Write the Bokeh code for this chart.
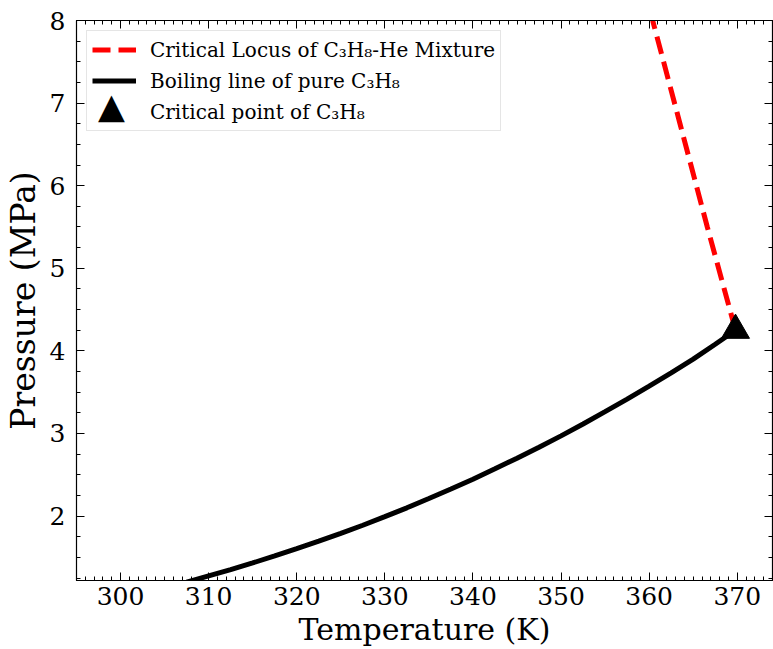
from bokeh.plotting import figure
from bokeh.models import LinearAxis, Range1d, Legend, LegendItem, FixedTicker, Label
from bokeh.embed import file_html
from bokeh.resources import INLINE

# Boiling line of pure C3H8 (T in K, P in MPa)
boil_T = [305, 307.5, 310, 312.5, 315, 317.5, 320, 322.5, 325, 327.5, 330, 332.5, 335, 337.5,
          340, 342.5, 345, 347.5, 350, 352.5, 355, 357.5, 360, 362.5, 365, 367.5, 369.8]
boil_P = [1.13, 1.20, 1.276, 1.352, 1.433, 1.517, 1.606, 1.696, 1.791, 1.889, 1.994, 2.100, 2.212, 2.327,
          2.447, 2.572, 2.701, 2.834, 2.971, 3.115, 3.264, 3.416, 3.574, 3.735, 3.90, 4.08, 4.25]

# Critical locus of C3H8-He mixture
locus_T = [369.8, 366.6, 363.5, 360.4]
locus_P = [4.25, 5.5, 6.75, 8.0]

# Critical point of C3H8
crit_T = [369.8]
crit_P = [4.25]

x_ticks = [300, 310, 320, 330, 340, 350, 360, 370]
y_ticks = [2, 3, 4, 5, 6, 7, 8]
x_minor = list(range(295, 375))
y_minor = [round(1.25 + 0.25 * i, 2) for i in range(28)]

FONT = "DejaVu Serif"

p = figure(width=773, height=649, output_backend="svg", toolbar_location=None,
           x_range=Range1d(295, 374), y_range=Range1d(1.22, 8.0),
           min_border_left=75, min_border_right=1, min_border_top=20, min_border_bottom=0)
p.xgrid.visible = False
p.ygrid.visible = False
p.outline_line_color = "black"
p.outline_line_width = 1.2

r_locus = p.line(locus_T, locus_P, line_color="red", line_width=5, line_dash="18 8")
r_boil = p.line(boil_T, boil_P, line_color="black", line_width=5)
r_crit = p.scatter(crit_T, crit_P, marker="triangle", size=28, fill_color="black", line_color="black")
# invisible twin used only to reserve the legend slot (the legend symbol is drawn larger below)
r_crit_legend = p.scatter(crit_T, crit_P, marker="triangle", size=28, fill_alpha=0, line_alpha=0)

def style(ax, labels=True):
    ax.major_tick_in = 8
    ax.major_tick_out = 0
    ax.minor_tick_in = 4
    ax.minor_tick_out = 0
    ax.axis_line_color = "black"
    ax.major_tick_line_color = "black"
    ax.minor_tick_line_color = "black"
    ax.major_label_text_font = FONT
    ax.major_label_text_font_size = "25px"
    ax.major_label_text_color = "black"
    ax.axis_label_text_font = FONT
    ax.axis_label_text_font_size = "30px"
    ax.axis_label_text_font_style = "normal"
    ax.axis_label_text_color = "black"
    if not labels:
        ax.major_label_text_font_size = "0px"
        ax.major_label_text_alpha = 0
        ax.major_label_standoff = 0

p.xaxis[0].ticker = FixedTicker(ticks=x_ticks, minor_ticks=x_minor)
p.yaxis[0].ticker = FixedTicker(ticks=y_ticks, minor_ticks=y_minor)
p.xaxis[0].axis_label = "Temperature (K)"
p.yaxis[0].axis_label = "Pressure (MPa)"
style(p.xaxis[0])
style(p.yaxis[0])
p.yaxis[0].axis_label_text_font_size = "33px"
p.xaxis[0].major_label_standoff = 6
p.yaxis[0].major_label_standoff = 11
p.xaxis[0].axis_label_standoff = 4
p.yaxis[0].axis_label_standoff = 4

top = LinearAxis(ticker=FixedTicker(ticks=x_ticks, minor_ticks=x_minor))
right = LinearAxis(ticker=FixedTicker(ticks=y_ticks, minor_ticks=y_minor))
style(top, labels=False)
style(right, labels=False)
p.add_layout(top, "above")
p.add_layout(right, "right")

legend = Legend(items=[
    LegendItem(label="Critical Locus of C\u2083H\u2088-He Mixture", renderers=[r_locus]),
    LegendItem(label="Boiling line of pure C\u2083H\u2088", renderers=[r_boil]),
    LegendItem(label="Critical point of C\u2083H\u2088", renderers=[r_crit_legend]),
], location="top_left")
legend.label_text_font = FONT
legend.label_text_font_size = "20px"
legend.label_text_color = "black"
legend.glyph_width = 44
legend.glyph_height = 27
legend.spacing = 4
legend.padding = 5
legend.margin = 10
legend.label_standoff = 14
legend.border_line_color = "#cccccc"
legend.border_line_width = 1
legend.background_fill_alpha = 0
p.add_layout(legend, "center")

tri = Label(x=35, y=475, x_units="screen", y_units="screen", text="\u25b2",
            text_font="DejaVu Sans", text_font_size="35px", text_color="black",
            text_align="center", text_baseline="middle", level="overlay")
p.add_layout(tri)

open("out.html", "w").write(file_html(p, INLINE))
